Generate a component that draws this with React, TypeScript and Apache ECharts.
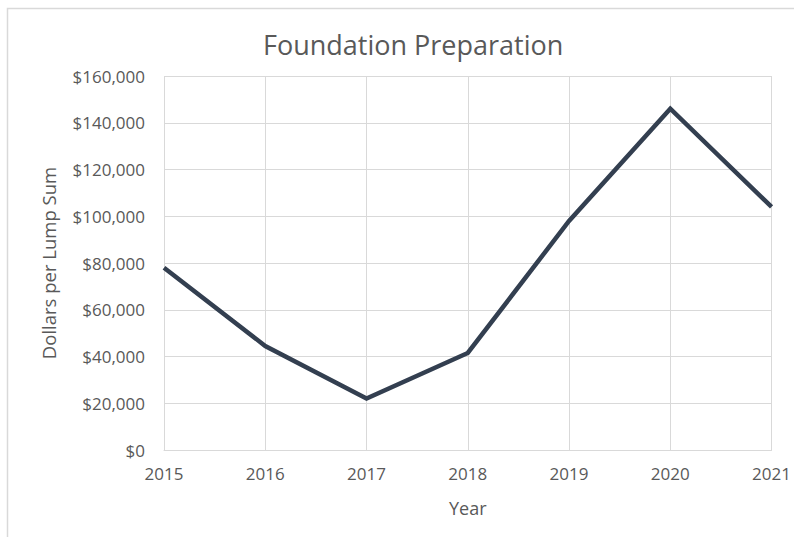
import React, { useEffect, useRef } from "react";
import * as echarts from "echarts";

const years = ["2015", "2016", "2017", "2018", "2019", "2020", "2021"];
const dollars = [78000, 44500, 22000, 41500, 98000, 146000, 104000];
const titleText = "Foundation Preparation";
const xName = "Year";
const yName = "Dollars per Lump Sum";

const FONT = "'Open Sans', 'Noto Sans', sans-serif";
const TEXT = "#595959";
const GRID = "#d9d9d9";

export default function App() {
  const ref = useRef<HTMLDivElement>(null);
  useEffect(() => {
    const chart = echarts.init(ref.current!, null, { renderer: "svg" });
    chart.setOption({
      animation: false,
      backgroundColor: "#ffffff",
      title: {
        text: titleText,
        left: 258,
        top: 26,
        textStyle: { fontFamily: FONT, fontSize: 27, fontWeight: "normal", color: TEXT },
      },
      graphic: [
        {
          type: "rect",
          shape: { x: 7.5, y: 8.5, width: 820, height: 600 },
          style: { fill: "none", stroke: GRID, lineWidth: 1.5 },
          silent: true,
        },
      ],
      grid: { left: 164, right: 19, top: 76, bottom: 87, containLabel: false },
      xAxis: {
        type: "category",
        data: years,
        boundaryGap: false,
        name: xName,
        nameLocation: "middle",
        nameGap: 49,
        nameTextStyle: { fontFamily: FONT, fontSize: 18, color: TEXT },
        axisLine: { show: true, lineStyle: { color: GRID, width: 1 } },
        axisTick: { show: false },
        axisLabel: { fontFamily: FONT, fontSize: 17, color: TEXT, margin: 15 },
        splitLine: { show: true, lineStyle: { color: GRID, width: 1 } },
      },
      yAxis: {
        type: "value",
        min: 0,
        max: 160000,
        interval: 20000,
        name: yName,
        nameLocation: "middle",
        nameGap: 106,
        nameTextStyle: { fontFamily: FONT, fontSize: 18.5, color: TEXT },
        axisLine: { show: false },
        axisTick: { show: false },
        axisLabel: {
          fontFamily: FONT,
          fontSize: 17,
          color: TEXT,
          margin: 19,
          formatter: (v: number) => "$" + v.toLocaleString("en-US"),
        },
        splitLine: { show: true, lineStyle: { color: GRID, width: 1 } },
      },
      series: [
        {
          type: "line",
          data: dollars,
          symbol: "none",
          lineStyle: { color: "#333f50", width: 4.5, join: "miter" },
        },
      ],
    });
    return () => chart.dispose();
  }, []);
  return <div ref={ref} style={{ width: 794, height: 537, position: "absolute", left: 0, top: 0 }} />;
}
